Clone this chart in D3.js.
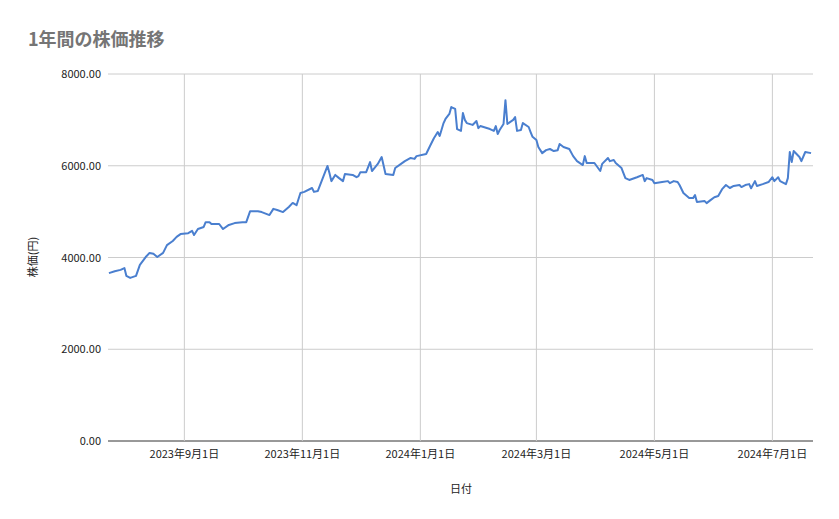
<!DOCTYPE html>
<html><head><meta charset="utf-8">
<script src="https://cdn.jsdelivr.net/npm/d3@7"></script>
<style>
body{margin:0;background:#fff;font-family:"Noto Sans CJK JP","Noto Sans",sans-serif;}
</style></head>
<body><svg id="chart" width="839" height="519"></svg>
<script>
var startDate = "2023-07-23", endDate = "2024-07-22";
// days since startDate
var dayOffsets = [1,4,7,9,10,12,15,17,20,22,24,26,29,31,34,36,38,42,44,45,47,50,51,53,54,58,60,63,66,70,72,74,78,80,84,86,88,91,94,96,98,100,102,106,107,109,114,115,116,118,120,122,123,127,129,130,131,134,136,137,140,142,144,148,149,152,154,157,159,160,165,167,169,171,172,174,175,177,178,180,181,183,184,185,186,189,191,192,193,198,200,201,202,203,205,206,207,210,211,212,214,215,218,219,220,222,223,225,227,229,231,233,234,236,239,241,243,246,247,248,252,255,256,259,260,262,263,266,268,270,274,277,278,279,282,283,287,290,291,293,295,296,298,301,303,304,305,309,310,312,314,316,318,320,322,324,327,328,330,332,333,335,336,339,342,344,345,347,348,351,352,353,354,355,358,359,361,364];
var prices = [3660,3700,3730,3770,3600,3555,3600,3840,4010,4100,4080,4010,4100,4270,4360,4450,4510,4530,4580,4490,4620,4665,4770,4770,4730,4730,4620,4710,4750,4770,4770,5010,5010,4990,4925,5060,5035,4990,5100,5190,5140,5405,5430,5515,5430,5450,5995,5840,5665,5800,5730,5665,5820,5800,5750,5775,5860,5860,6080,5885,6040,6190,5820,5800,5950,6040,6100,6170,6150,6210,6255,6430,6600,6735,6650,6930,7020,7130,7280,7240,6800,6760,7150,7000,6930,6890,6975,6820,6865,6800,6760,6865,6690,6780,6910,7430,6910,7000,7060,6760,6780,6930,6845,6735,6630,6560,6410,6275,6340,6365,6320,6340,6475,6410,6365,6210,6100,6015,6210,6060,6060,5885,6040,6170,6100,6125,6060,5950,5730,5690,5750,5800,5665,5730,5690,5620,5645,5665,5620,5665,5645,5580,5405,5295,5295,5360,5210,5230,5185,5250,5315,5340,5490,5580,5515,5560,5580,5535,5580,5600,5510,5665,5560,5600,5645,5750,5665,5750,5665,5600,5730,6300,6080,6320,6190,6100,6300,6275];
var yTicks = [0,2000,4000,6000,8000];
var xTickDates = ["2023-09-01","2023-11-01","2024-01-01","2024-03-01","2024-05-01","2024-07-01"];

var parse = d3.timeParse("%Y-%m-%d"), t0 = parse(startDate);
var data = dayOffsets.map(function(d,i){ return {date:d3.timeDay.offset(t0,d), v:prices[i]}; });
var svg = d3.select("#chart");
var x = d3.scaleTime().domain([t0, parse(endDate)]).range([107,813]);
var y = d3.scaleLinear().domain([0,8000]).range([441,74]);
var font = '"Noto Sans CJK JP","Noto Sans",sans-serif';

svg.append("text").attr("x",28).attr("y",46).attr("font-size",18).attr("font-weight","bold")
  .attr("fill","#757575").attr("font-family",font).text("1年間の株価推移");

svg.append("g").selectAll("line").data(yTicks).join("line")
  .attr("x1",108).attr("x2",813).attr("y1",y).attr("y2",y)
  .attr("stroke",function(d){ return d===0 ? "#333" : "#ccc"; }).attr("stroke-width",1);
svg.append("g").selectAll("line").data(xTickDates.map(parse)).join("line")
  .attr("x1",x).attr("x2",x).attr("y1",74).attr("y2",441).attr("stroke","#ccc");

svg.append("g").selectAll("text").data(yTicks).join("text")
  .attr("x",101).attr("y",function(d){ return y(d)+4; }).attr("text-anchor","end")
  .attr("font-size",11).attr("fill","#222").attr("font-family",font)
  .text(function(d){ return d3.format(".2f")(d); });
var fmt = d3.timeFormat("%Y年%-m月%-d日");
svg.append("g").selectAll("text").data(xTickDates.map(parse)).join("text")
  .attr("x",x).attr("y",458).attr("text-anchor","middle")
  .attr("font-size",11).attr("fill","#222").attr("font-family",font).text(fmt);

svg.append("text").attr("x",461).attr("y",493).attr("text-anchor","middle")
  .attr("font-size",11).attr("fill","#222").attr("font-family",font).text("日付");
svg.append("text").attr("transform","translate(37,257) rotate(-90)").attr("text-anchor","middle")
  .attr("font-size",11).attr("fill","#222").attr("font-family",font).text("株価(円)");

svg.append("path").datum(data).attr("fill","none").attr("stroke","#4a7fcf")
  .attr("stroke-width",2).attr("stroke-linejoin","round")
  .attr("d", d3.line().x(function(d){ return x(d.date); }).y(function(d){ return y(d.v); }));
</script></body></html>
